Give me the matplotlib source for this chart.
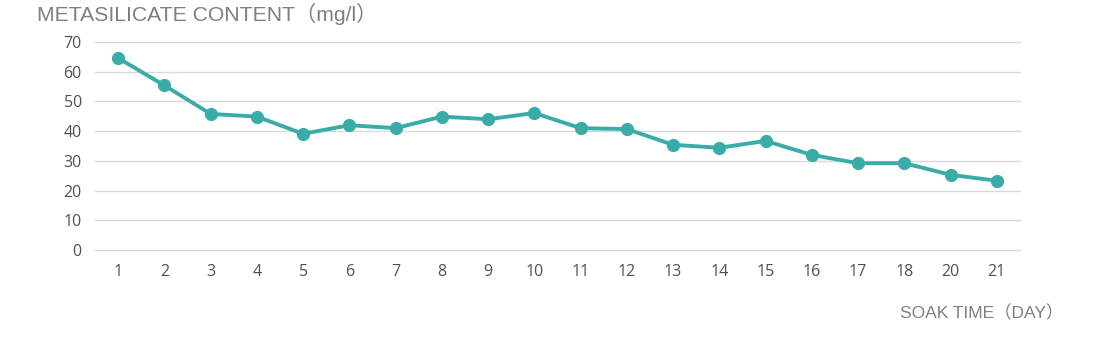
import matplotlib
matplotlib.use("Agg")
import matplotlib.pyplot as plt

days = ["1", "2", "3", "4", "5", "6", "7", "8", "9", "10",
        "11", "12", "13", "14", "15", "16", "17", "18", "20", "21"]
content = [64.6, 55.4, 45.8, 44.9, 39.1, 42.0, 41.0, 44.9, 44.0, 46.1,
           41.0, 40.7, 35.4, 34.4, 36.7, 32.0, 29.2, 29.2, 25.3, 23.3]

plt.rcParams['font.family'] = ['Open Sans', 'Noto Sans CJK SC', 'DejaVu Sans']

fig = plt.figure(figsize=(11, 3.39), dpi=100)
ax = fig.add_axes([95 / 1100, 89 / 339, 925 / 1100, 208 / 339])

x = list(range(len(days)))
ax.plot(x, content, color='#3AACA8', linewidth=2.8, marker='o', markersize=8.5,
        solid_joinstyle='round', zorder=3)

ax.set_xlim(-0.5, len(days) - 0.5)
ax.set_ylim(0, 70)
ax.set_yticks(range(0, 71, 10))
ax.set_xticks(x)
ax.set_xticklabels(days)
ax.grid(axis='y', color='#d9d9d9', linewidth=1)
for gl in ax.get_ygridlines():
    gl.set_clip_on(False)
ax.set_axisbelow(True)
for s in ax.spines.values():
    s.set_visible(False)
ax.tick_params(length=0, labelsize=11.5, colors='#505050')
ax.tick_params(axis='x', pad=10)
ax.tick_params(axis='y', pad=9.5)

title_font = ['Liberation Sans', 'Noto Sans CJK SC', 'DejaVu Sans']
fig.text(37 / 1100, 1 - 14 / 339, 'METASILICATE CONTENT（mg/l）', fontsize=15.2,
         color='#7f7f7f', va='center', ha='left', family=title_font)
fig.text(1063 / 1100, 1 - 313 / 339, 'SOAK TIME（DAY）', fontsize=12.5,
         color='#7f7f7f', va='center', ha='right', family=title_font)

fig.savefig('out.png', dpi=100)
